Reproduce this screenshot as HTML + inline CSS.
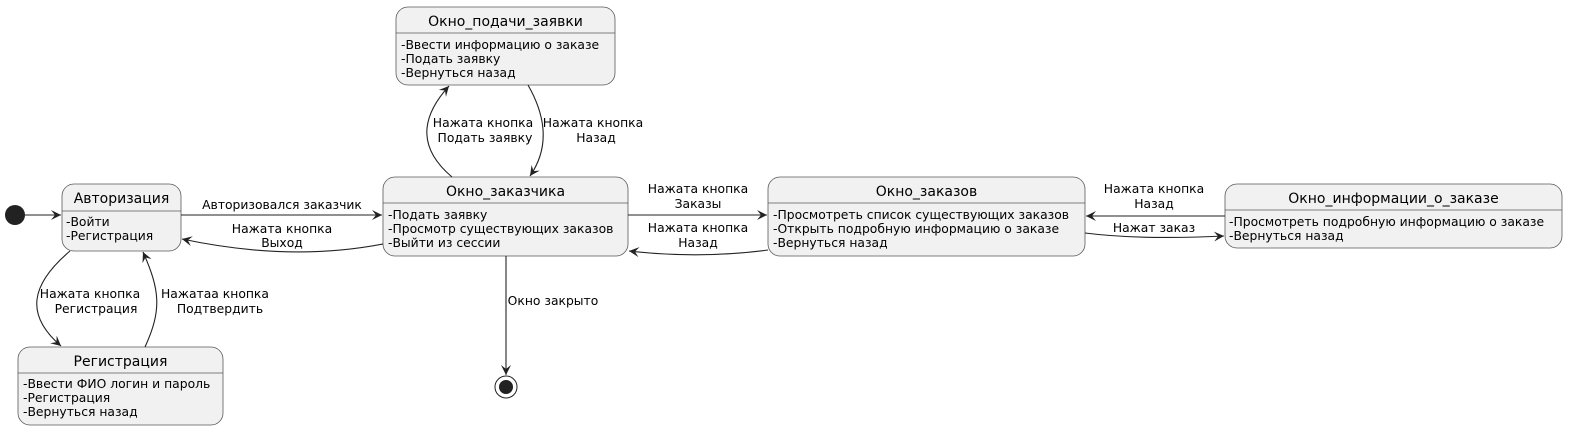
<!DOCTYPE html>
<html><head><meta charset="utf-8"><style>
html,body{margin:0;padding:0;background:#fff;}
svg text{font-family:"DejaVu Sans","Liberation Sans",sans-serif;fill:#000;}
.t{font-size:14px;text-anchor:middle;}
.b{font-size:12.35px;}
.l{font-size:12.35px;text-anchor:middle;}
.box{fill:#f1f1f1;stroke:#5a5a5a;stroke-width:0.8;}
.sep{stroke:#5a5a5a;stroke-width:0.8;}
.e{fill:none;stroke:#222;stroke-width:1.1;}
</style></head><body>
<svg width="1569" height="430" viewBox="0 0 1569 430" xmlns="http://www.w3.org/2000/svg">
<defs>
<marker id="a" markerWidth="12" markerHeight="10" refX="10" refY="5" orient="auto" markerUnits="userSpaceOnUse">
<path d="M0,0 L10,5 L0,10 L4,5 Z" fill="#222"/>
</marker>
</defs>

<circle cx="15" cy="215" r="10" fill="#222"/>
<circle cx="506" cy="387" r="11" fill="none" stroke="#222" stroke-width="1"/>
<circle cx="506" cy="387" r="7" fill="#222"/>

<rect class="box" x="62" y="184" width="119" height="67" rx="12"/>
<line class="sep" x1="62" y1="211" x2="181" y2="211"/>
<text class="t" x="121.5" y="203">Авторизация</text>
<text class="b" x="66" y="226">-Войти</text>
<text class="b" x="66" y="240">-Регистрация</text>

<rect class="box" x="18" y="347" width="205" height="78" rx="12"/>
<line class="sep" x1="18" y1="373" x2="223" y2="373"/>
<text class="t" x="120.5" y="366">Регистрация</text>
<text class="b" x="23" y="388">-Ввести ФИО логин и пароль</text>
<text class="b" x="23" y="402">-Регистрация</text>
<text class="b" x="23" y="416">-Вернуться назад</text>

<rect class="box" x="396" y="7" width="219" height="78" rx="12"/>
<line class="sep" x1="396" y1="33" x2="615" y2="33"/>
<text class="t" x="505.5" y="26">Окно_подачи_заявки</text>
<text class="b" x="401" y="49">-Ввести информацию о заказе</text>
<text class="b" x="401" y="63">-Подать заявку</text>
<text class="b" x="401" y="77">-Вернуться назад</text>

<rect class="box" x="383" y="177" width="245" height="79" rx="12"/>
<line class="sep" x1="383" y1="203" x2="628" y2="203"/>
<text class="t" x="505.5" y="196">Окно_заказчика</text>
<text class="b" x="388" y="219">-Подать заявку</text>
<text class="b" x="388" y="233">-Просмотр существующих заказов</text>
<text class="b" x="388" y="247">-Выйти из сессии</text>

<rect class="box" x="768" y="177" width="317" height="79" rx="12"/>
<line class="sep" x1="768" y1="203" x2="1085" y2="203"/>
<text class="t" x="926.5" y="196">Окно_заказов</text>
<text class="b" x="773" y="219">-Просмотреть список существующих заказов</text>
<text class="b" x="773" y="233">-Открыть подробную информацию о заказе</text>
<text class="b" x="773" y="247">-Вернуться назад</text>

<rect class="box" x="1225" y="184" width="337" height="64" rx="12"/>
<line class="sep" x1="1225" y1="210" x2="1562" y2="210"/>
<text class="t" x="1393.5" y="203">Окно_информации_о_заказе</text>
<text class="b" x="1229" y="226">-Просмотреть подробную информацию о заказе</text>
<text class="b" x="1229" y="240">-Вернуться назад</text>

<path class="e" d="M25,215 L61,215" marker-end="url(#a)"/>
<path class="e" d="M181,215 L382,215" marker-end="url(#a)"/>
<text class="l" x="282" y="209">Авторизовался заказчик</text>

<path class="e" d="M383,244 Q290,262 182,239" marker-end="url(#a)"/>
<text class="l" x="282" y="233">Нажата кнопка</text>
<text class="l" x="282" y="247">Выход</text>

<path class="e" d="M70,251 C30,285 25,315 61,346" marker-end="url(#a)"/>
<text class="l" x="90" y="298">Нажата кнопка</text>
<text class="l" x="96" y="313">Регистрация</text>

<path class="e" d="M145,347 C162,310 160,290 143,252" marker-end="url(#a)"/>
<text class="l" x="215" y="298">Нажатаа кнопка</text>
<text class="l" x="220" y="313">Подтвердить</text>

<path class="e" d="M452,177 C420,150 418,120 449,86" marker-end="url(#a)"/>
<text class="l" x="483" y="127">Нажата кнопка</text>
<text class="l" x="485" y="142">Подать заявку</text>

<path class="e" d="M528,85 C548,120 548,150 530,176" marker-end="url(#a)"/>
<text class="l" x="593" y="127">Нажата кнопка</text>
<text class="l" x="596" y="142">Назад</text>

<path class="e" d="M506,256 L506,375" marker-end="url(#a)"/>
<text class="l" x="553" y="305">Окно закрыто</text>

<path class="e" d="M628,215 L767,215" marker-end="url(#a)"/>
<text class="l" x="698" y="193">Нажата кнопка</text>
<text class="l" x="698" y="208">Заказы</text>

<path class="e" d="M768,250 Q700,259 629,251" marker-end="url(#a)"/>
<text class="l" x="698" y="232">Нажата кнопка</text>
<text class="l" x="698" y="247">Назад</text>

<path class="e" d="M1225,216 L1086,216" marker-end="url(#a)"/>
<text class="l" x="1154" y="193">Нажата кнопка</text>
<text class="l" x="1154" y="208">Назад</text>

<path class="e" d="M1085,233 Q1140,240 1224,236" marker-end="url(#a)"/>
<text class="l" x="1154" y="232">Нажат заказ</text>
</svg>
</body></html>
